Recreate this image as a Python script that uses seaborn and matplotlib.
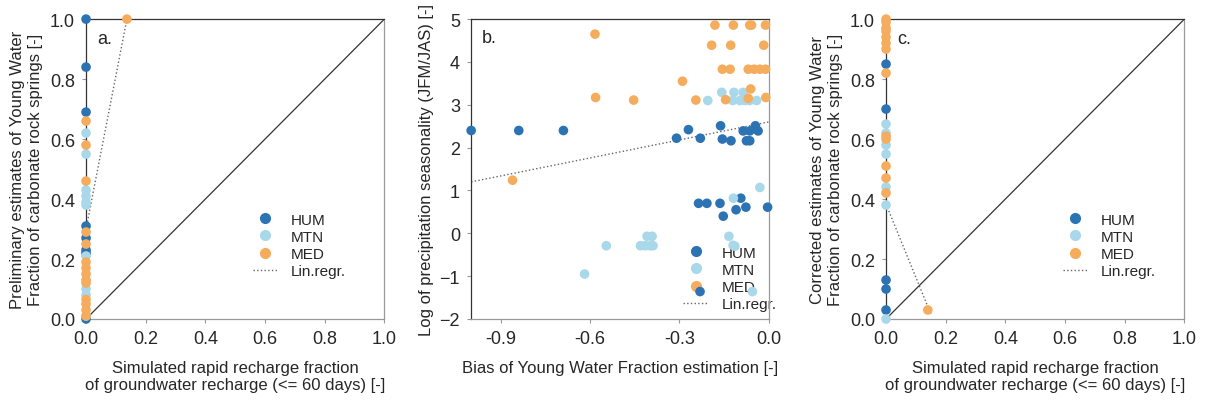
import numpy as np
import matplotlib
matplotlib.use("Agg")
import matplotlib.pyplot as plt
from matplotlib.lines import Line2D
import pandas as pd
import seaborn as sns

# colores por region
colores = {"HUM": "#2b73b3", "MTN": "#a8d8ea", "MED": "#f5ac5c"}
regiones = ["HUM", "MTN", "MED"]

# Panel a - estimaciones preliminares
a_hum_x = [0.0, 0.0, 0.0, 0.0, 0.0, 0.0, 0.0, 0.0]
a_hum_y = [1.00, 0.84, 0.69, 0.31, 0.27, 0.23, 0.22, 0.00]
a_mtn_x = [0.0, 0.0, 0.0, 0.0, 0.0, 0.0, 0.0, 0.0, 0.0, 0.0]
a_mtn_y = [0.62, 0.55, 0.43, 0.41, 0.39, 0.38, 0.21, 0.10, 0.08, 0.01]
a_med_x = [0.137, 0.0, 0.0, 0.0, 0.0, 0.0, 0.0, 0.0, 0.0, 0.0, 0.0, 0.0, 0.0, 0.0, 0.0]
a_med_y = [1.00, 0.66, 0.58, 0.46, 0.29, 0.25, 0.19, 0.17, 0.15, 0.13, 0.12,
           0.065, 0.05, 0.03, 0.01]
reg_a = {"x0": 0.0, "x1": 0.137, "b": 0.30, "m": 5.11}

# Panel b - sesgo vs estacionalidad
b_hum_x = [-1.0, -0.84, -0.69, -0.31, -0.27, -0.23, -0.162, -0.156, -0.127, -0.086,
           -0.075, -0.064, -0.064, -0.045, -0.036, -0.236, -0.208, -0.164, -0.153,
           -0.110, -0.094, -0.077, -0.004, -0.231]
b_hum_y = [2.40, 2.40, 2.40, 2.22, 2.42, 2.22, 2.51, 2.20, 2.16, 2.39,
           2.16, 2.16, 2.39, 2.51, 2.39, 0.70, 0.70, 0.70, 0.40,
           0.55, 0.82, 0.61, 0.61, -1.36]
b_mtn_x = [-0.619, -0.546, -0.431, -0.415, -0.398, -0.389, -0.409, -0.392, -0.205,
           -0.158, -0.117, -0.086, -0.121, -0.097, -0.080, -0.064, -0.041, -0.030,
           -0.119, -0.134, -0.114, -0.120, -0.055]
b_mtn_y = [-0.95, -0.29, -0.29, -0.29, -0.29, -0.29, -0.07, -0.07, 3.10,
           3.29, 3.29, 3.29, 3.10, 3.10, 3.10, 3.10, 3.10, 1.07,
           0.82, -0.07, -0.30, -0.28, -1.36]
b_med_x = [-0.584, -0.582, -0.454, -0.861, -0.290, -0.245, -0.181, -0.119, -0.064,
           -0.058, -0.011, -0.192, -0.128, -0.017, -0.156, -0.130, -0.069, -0.049,
           -0.030, -0.011, -0.061, -0.069, -0.010, -0.145]
b_med_y = [4.65, 3.17, 3.11, 1.24, 3.55, 3.11, 4.86, 4.86, 4.86,
           4.86, 4.86, 4.39, 4.39, 4.39, 3.83, 3.83, 3.83, 3.83,
           3.83, 3.83, 3.37, 3.15, 3.17, 3.12]
reg_b = {"x0": -1.0, "x1": 0.0, "b": 2.60, "m": 1.40}

# Panel c - estimaciones corregidas
c_hum_x = [0.0, 0.0, 0.0, 0.0, 0.0]
c_hum_y = [0.85, 0.70, 0.13, 0.10, 0.03]
c_mtn_x = [0.0, 0.0, 0.0, 0.0, 0.0, 0.0, 0.0]
c_mtn_y = [0.65, 0.62, 0.58, 0.55, 0.44, 0.38, 0.00]
c_med_x = [0.0, 0.0, 0.0, 0.0, 0.0, 0.0, 0.0, 0.0, 0.0, 0.0, 0.0, 0.0, 0.0, 0.14]
c_med_y = [1.00, 0.99, 0.97, 0.96, 0.94, 0.92, 0.90, 0.82, 0.61, 0.60, 0.51,
           0.47, 0.42, 0.03]
reg_c = {"x0": 0.0, "x1": 0.15, "b": 0.383, "m": -2.44}

xlab_rec = "Simulated rapid recharge fraction\nof groundwater recharge (<= 60 days) [-]"


def armar(hx, hy, mx, my, ex, ey):
    partes = []
    for reg, xs, ys in zip(regiones, [hx, mx, ex], [hy, my, ey]):
        partes.append(pd.DataFrame({"x": xs, "y": ys, "region": reg}))
    return pd.concat(partes, ignore_index=True)


df_a = armar(a_hum_x, a_hum_y, a_mtn_x, a_mtn_y, a_med_x, a_med_y)
df_b = armar(b_hum_x, b_hum_y, b_mtn_x, b_mtn_y, b_med_x, b_med_y)
df_c = armar(c_hum_x, c_hum_y, c_mtn_x, c_mtn_y, c_med_x, c_med_y)

sns.set_theme(style="white")
plt.rcParams["font.family"] = ["Liberation Sans", "DejaVu Sans"]

fig = plt.figure(figsize=(12.05, 4.02), dpi=100)
ax_a = fig.add_axes([0.0714, 0.204, 0.2476, 0.746])
ax_b = fig.add_axes([0.391, 0.204, 0.247, 0.746])
ax_c = fig.add_axes([0.7353, 0.204, 0.2476, 0.746])


def estilo(ax):
    for lado in ["left", "top"]:
        ax.spines[lado].set_color("#333333")
    for lado in ["right", "bottom"]:
        ax.spines[lado].set_color("#999999")
    for sp in ax.spines.values():
        sp.set_linewidth(0.9)
    ax.tick_params(direction="out", length=3, width=0.8, color="#999999",
                   labelsize=13, pad=5, left=True, bottom=True)


def leyenda(ax, anchor):
    handles = [Line2D([], [], marker="o", ls="", color=colores[r], markersize=7)
               for r in regiones]
    handles.append(Line2D([], [], ls=":", color="#666666", lw=1))
    leg = ax.legend(handles, regiones + ["Lin.regr."], loc="upper left",
                    bbox_to_anchor=anchor, frameon=False, fontsize=11,
                    handlelength=1.6, handletextpad=0.9, labelspacing=0.2)
    leg.set_zorder(0.5)


paneles = [(ax_a, df_a, reg_a, "a.", (0.513, 0.40)),
           (ax_c, df_c, reg_c, "c.", (0.547, 0.40))]
for ax, df, reg, letra, anchor in paneles:
    ax.plot([0, 1], [0, 1], color="#333333", lw=0.9, zorder=1)
    sns.scatterplot(data=df, x="x", y="y", hue="region", palette=colores,
                    s=48, edgecolor="none", ax=ax, legend=False, zorder=3,
                    clip_on=False)
    xs = np.array([reg["x0"], reg["x1"]])
    ax.plot(xs, reg["b"] + reg["m"] * xs, ls=":", color="#666666", lw=1, zorder=2)
    ax.set_xlim(0, 1)
    ax.set_ylim(0, 1)
    ax.set_xticks(np.arange(0, 1.01, 0.2))
    ax.set_yticks(np.arange(0, 1.01, 0.2))
    ax.xaxis.set_major_formatter(matplotlib.ticker.FormatStrFormatter("%.1f"))
    ax.yaxis.set_major_formatter(matplotlib.ticker.FormatStrFormatter("%.1f"))
    ax.set_xlabel(xlab_rec, fontsize=12, labelpad=9)
    ax.text(0.037, 0.935, letra, transform=ax.transAxes, fontsize=13, va="center")
    estilo(ax)
    leyenda(ax, anchor)

ax_a.set_ylabel("Preliminary estimates of Young Water\nFraction of carbonate rock springs [-]",
                fontsize=12, labelpad=5)
ax_c.set_ylabel("Corrected estimates of Young Water\nFraction of carbonate rock springs [-]",
                fontsize=12, labelpad=5)

# Panel b
sns.scatterplot(data=df_b, x="x", y="y", hue="region", palette=colores,
                s=48, edgecolor="none", ax=ax_b, legend=False, zorder=3,
                clip_on=False)
xs = np.array([reg_b["x0"], reg_b["x1"]])
ax_b.plot(xs, reg_b["b"] + reg_b["m"] * xs, ls=":", color="#666666", lw=1, zorder=2)
ax_b.set_xlim(-1.0, 0.0)
ax_b.set_ylim(-2, 5)
ax_b.set_xticks([-0.9, -0.6, -0.3, 0.0])
ax_b.set_yticks(range(-2, 6))
ax_b.xaxis.set_major_formatter(matplotlib.ticker.FormatStrFormatter("%.1f"))
ax_b.set_xlabel("Bias of Young Water Fraction estimation [-]", fontsize=12, labelpad=9)
ax_b.set_ylabel("Log of precipitation seasonality (JFM/JAS) [-]", fontsize=12, labelpad=4)
ax_b.text(0.037, 0.94, "b.", transform=ax_b.transAxes, fontsize=13, va="center")
estilo(ax_b)
leyenda(ax_b, (0.667, 0.29))

fig.savefig("out.png", dpi=100)
